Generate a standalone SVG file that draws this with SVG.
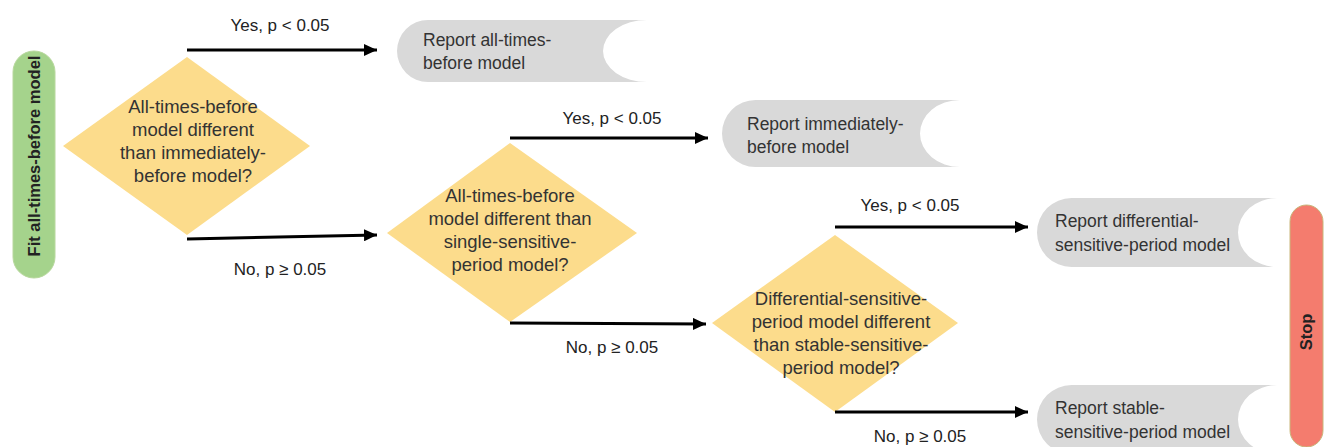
<svg xmlns="http://www.w3.org/2000/svg" width="1324" height="447" viewBox="0 0 1324 447">
<style>
  text { font-family: "Liberation Sans", Arial, sans-serif; font-size: 17.5px; fill: #333333; }
  .lbl { fill: #222222; text-anchor: middle; font-size: 17px; }
  .dtxt { text-anchor: middle; font-size: 18.5px; }
  .bold { font-weight: bold; font-size: 16.5px; fill: #222222; }
  .diamond { fill: #fcdc8c; }
  .report { fill: #d9d9d9; }
  .conn { stroke: #000000; stroke-width: 3; fill: none; marker-end: url(#arr); }
</style>
<defs>
  <marker id="arr" markerUnits="userSpaceOnUse" markerWidth="14" markerHeight="12" refX="13" refY="6" orient="auto">
    <path d="M0,0 L13,6 L0,12 Z" fill="#000000"/>
  </marker>
</defs>
<rect width="1324" height="447" fill="#ffffff"/>

<g id="start">
  <rect x="13" y="51" width="42" height="227" rx="21" fill="#a5d38c" stroke="#b8d89e" stroke-width="1"/>
  <text class="bold" transform="translate(40,156) rotate(-90)" text-anchor="middle">Fit all-times-before model</text>
</g>

<g id="d1">
  <polygon class="diamond" points="187,57 310,146 187,235 63,146"/>
  <text class="dtxt" x="193" y="113">All-times-before</text>
  <text class="dtxt" x="193" y="136">model different</text>
  <text class="dtxt" x="193" y="159">than immediately-</text>
  <text class="dtxt" x="193" y="182">before model?</text>
</g>

<g id="r1">
  <path class="report" d="M428,20 H647 A44 31 0 0 0 647,82 H428 A31 31 0 0 1 428,20 Z"/>
  <text x="423" y="46">Report all-times-</text>
  <text x="423" y="69">before model</text>
</g>

<g id="d2">
  <polygon class="diamond" points="510,143 637,233 510,322 387,233"/>
  <text class="dtxt" x="510" y="202">All-times-before</text>
  <text class="dtxt" x="510" y="225">model different than</text>
  <text class="dtxt" x="510" y="248">single-sensitive-</text>
  <text class="dtxt" x="510" y="271">period model?</text>
</g>

<g id="r2">
  <path class="report" d="M755.5,100 H960 A40 33.5 0 0 0 960,167 H755.5 A33.5 33.5 0 0 1 755.5,100 Z"/>
  <text x="747" y="130">Report immediately-</text>
  <text x="747" y="153">before model</text>
</g>

<g id="d3">
  <polygon class="diamond" points="835,235 958,323 835,412 712,323"/>
  <text class="dtxt" x="841" y="305">Differential-sensitive-</text>
  <text class="dtxt" x="841" y="328">period model different</text>
  <text class="dtxt" x="841" y="351">than stable-sensitive-</text>
  <text class="dtxt" x="841" y="374">period model?</text>
</g>

<g id="r3">
  <path class="report" d="M1071.5,198 H1277 A39 34.5 0 0 0 1277,267 H1071.5 A34.5 34.5 0 0 1 1071.5,198 Z"/>
  <text x="1055" y="227">Report differential-</text>
  <text x="1055" y="251">sensitive-period model</text>
</g>

<g id="r4">
  <path class="report" d="M1071.5,385 H1277 A39 34.5 0 0 0 1277,454 H1071.5 A34.5 34.5 0 0 1 1071.5,385 Z"/>
  <text x="1055" y="414">Report stable-</text>
  <text x="1055" y="438">sensitive-period model</text>
</g>

<g id="stop">
  <rect x="1290" y="205" width="33" height="242" rx="16.5" fill="#f47c6e" stroke="#c8b77a" stroke-width="1"/>
  <text class="bold" transform="translate(1312,332) rotate(-90)" text-anchor="middle">Stop</text>
</g>

<g id="connectors">
  <line class="conn" x1="187" y1="50" x2="377" y2="50"/>
  <line class="conn" x1="187" y1="239" x2="377" y2="235"/>
  <line class="conn" x1="510" y1="138" x2="708" y2="138"/>
  <line class="conn" x1="510" y1="323" x2="706" y2="324"/>
  <line class="conn" x1="835" y1="227" x2="1028" y2="227"/>
  <line class="conn" x1="835" y1="412" x2="1028" y2="412"/>
  <text class="lbl" x="280" y="31">Yes, p &lt; 0.05</text>
  <text class="lbl" x="280" y="275">No, p ≥ 0.05</text>
  <text class="lbl" x="612" y="124">Yes, p &lt; 0.05</text>
  <text class="lbl" x="612" y="353">No, p ≥ 0.05</text>
  <text class="lbl" x="910" y="211">Yes, p &lt; 0.05</text>
  <text class="lbl" x="920" y="442">No, p ≥ 0.05</text>
</g>
</svg>
